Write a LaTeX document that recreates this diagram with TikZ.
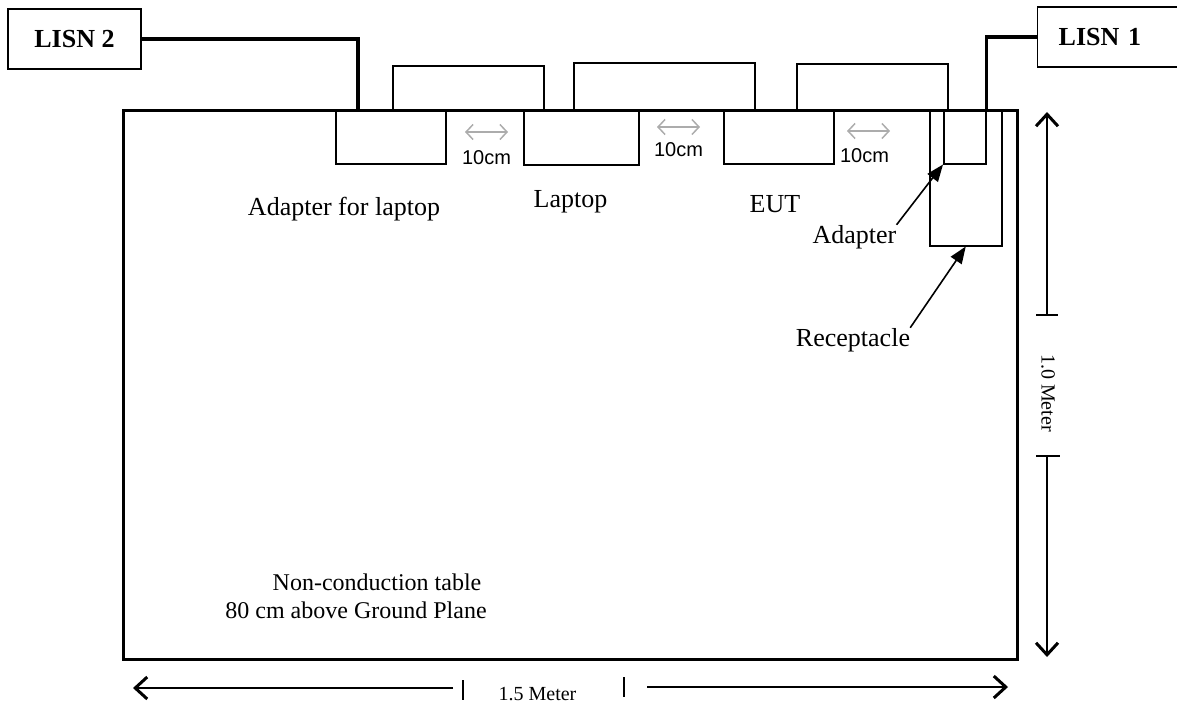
\documentclass[tikz,border=0pt]{standalone}
\usepackage{fontspec}
\setmainfont{Liberation Serif}
\setsansfont{Liberation Sans}
\usetikzlibrary{arrows.meta,positioning,calc}

\begin{document}
\begin{tikzpicture}[x=1pt, y=-1pt,
  lisn/.style={rectangle, draw, line width=1.3pt, minimum height=60pt, font=\fontsize{26}{30}\selectfont\bfseries},
  unit/.style={rectangle, draw, line width=1.5pt, inner sep=0pt, anchor=north west},
  wire/.style={line width=3.2pt},
  cable/.style={line width=1.5pt},
  lbl/.style={font=\fontsize{26}{30}\selectfont, anchor=base, inner sep=0pt},
  note/.style={font=\fontsize{24}{28}\selectfont, anchor=base, inner sep=0pt},
  gap/.style={{Straight Barb[length=7pt,width=15pt,line width=1.5pt]}-{Straight Barb[length=7pt,width=15pt,line width=1.5pt]}, gray!65, line width=1.5pt},
  gaplbl/.style={font=\sffamily\fontsize{20}{24}\selectfont, inner sep=0pt, text=black},
  pointer/.style={-{Triangle[length=17pt,width=13pt]}, line width=1.6pt},
  dim/.style={line width=1.8pt},
  dimtip/.style={-{Straight Barb[length=12pt,width=22pt,line width=3pt]}, line width=1.8pt},
  dimlbl/.style={font=\fontsize{20}{24}\selectfont, inner sep=0pt}
]
\useasboundingbox (0,0) rectangle (1177,706);

% table
\node[draw, line width=3.2pt, minimum width=894pt, minimum height=549pt, anchor=north west] (table) at (122,109) {};

% LISNs
\node[lisn, minimum width=133pt] (lisn2) at (74.5,39) {LISN 2};
\node[lisn, anchor=west, text width=110pt, inner xsep=21pt, align=left] (lisn1) at (1037,37) {LISN 1};

% units on the table edge
\node[unit, minimum width=110pt, minimum height=54pt] (adl) at (335,109) {};
\node[unit, minimum width=115pt, minimum height=55pt] (lap) at (523,109) {};
\node[unit, minimum width=110pt, minimum height=54pt] (eut) at (723,109) {};
\node[unit, minimum width=72pt, minimum height=136pt] (rec) at (929,109) {};
\node[unit, minimum width=42pt, minimum height=54pt] (ad) at (943,109) {};

% mains wires
\draw[wire] (lisn2.east) -| ([xshift=23pt]adl.north west);
\draw[wire] (lisn1.west) -| (ad.north east);

% cables between units
\draw[cable] ([xshift=58pt]adl.north west) -- ++(0,-43) -| ([xshift=21pt]lap.north west);
\draw[cable] ([xshift=51pt]lap.north west) -- ++(0,-46) -| ([xshift=32pt]eut.north west);
\draw[cable] ([xshift=74pt]eut.north west) -- ++(0,-45) -| ([xshift=5pt]ad.north west);

% spacing marks
\draw[gap] (465,132) -- node[gaplbl, below=18pt] {10cm} (508,132);
\draw[gap] (657,127) -- node[gaplbl, below=15pt] {10cm} (700,127);
\draw[gap] (847,131) -- node[gaplbl, below=17pt, xshift=-4pt] {10cm} (890,131);

% labels
\node[lbl] (adllbl) at (344,215) {Adapter for laptop};
\node[lbl] (laplbl) at (570.5,207) {Laptop};
\node[lbl] (eutlbl) at (775,212) {EUT};
\node[lbl] (adlbl) at (854.5,243) {Adapter};
\node[lbl] (reclbl) at (853,346) {Receptacle};
\draw[pointer] (adlbl.north east) -- (ad.south west);
\draw[pointer] (reclbl.north east) -- (rec.south);

\node[note] (tbl1) at (377,590) {Non-conduction table};
\node[note] (tbl2) at (356,618) {80 cm above Ground Plane};

% 1.5 m
\draw[dimtip] (453,688) -- (133,688);
\draw[dim] (463,680) -- (463,700);
\node[dimlbl, anchor=base] (wlbl) at (537.5,700) {1.5 Meter};
\draw[dim] (624,677) -- (624,697);
\draw[dimtip] (647,687) -- (1008,687);

% 1.0 m
\draw[dimtip] (1047,315) -- (1047,112);
\draw[dim] (1036,315) -- (1058,315);
\node[dimlbl, rotate=-90] (hlbl) at (1048,393) {1.0 Meter};
\draw[dim] (1036,456) -- (1060,456);
\draw[dimtip] (1047,456) -- (1047,657);
\end{tikzpicture}
\end{document}
